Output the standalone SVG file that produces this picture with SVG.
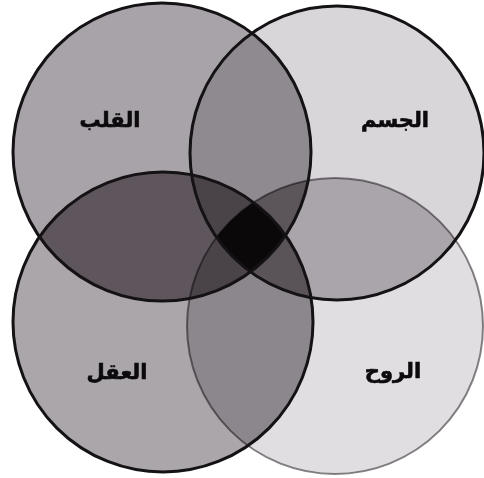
<svg xmlns="http://www.w3.org/2000/svg" width="484" height="478" viewBox="0 0 484 478">
  <style>
    .lbl { font-family: "DejaVu Sans", "Noto Sans", sans-serif; font-weight: bold; font-size: 21px; fill: #0c0a0c; stroke: #0c0a0c; stroke-width: 0.6; text-anchor: middle; }
    .edge { fill: none; stroke: #141214; stroke-width: 3; }
    .edge-light { fill: none; stroke: #8a868a; stroke-width: 2; mix-blend-mode: multiply; }
  </style>
  <defs>
    <circle id="cTL" cx="162" cy="152" r="149"/>
    <circle id="cTR" cx="337" cy="153" r="147"/>
    <circle id="cBL" cx="163" cy="322" r="150"/>
    <circle id="cBR" cx="335" cy="326" r="148"/>
    <clipPath id="kTL"><use href="#cTL"/></clipPath>
    <clipPath id="kTR"><use href="#cTR"/></clipPath>
    <clipPath id="kBL"><use href="#cBL"/></clipPath>
    <clipPath id="kBR"><use href="#cBR"/></clipPath>
  </defs>
  <rect width="484" height="478" fill="#ffffff"/>

  <!-- single regions -->
  <g id="node-jism"><use href="#cTR" fill="#d9d6da"/></g>
  <g id="node-ruh"><use href="#cBR" fill="#e0dee0"/></g>
  <g id="node-qalb"><use href="#cTL" fill="#a8a3a8"/></g>
  <g id="node-aql"><use href="#cBL" fill="#aaa6aa"/></g>

  <!-- overlaps -->
  <g id="overlaps">
    <g clip-path="url(#kTR)"><use href="#cBR" fill="#aaa5aa"/></g>
    <g clip-path="url(#kBL)"><use href="#cBR" fill="#8c878c"/></g>
    <g clip-path="url(#kTL)"><use href="#cTR" fill="#8f8a90"/></g>
    <g clip-path="url(#kTL)"><use href="#cBR" fill="#807a80"/></g>
    <g clip-path="url(#kTR)"><use href="#cBL" fill="#807a80"/></g>
    <g clip-path="url(#kTL)"><use href="#cBL" fill="#5e565c"/></g>
    <!-- triples -->
    <g clip-path="url(#kTL)"><g clip-path="url(#kTR)"><use href="#cBR" fill="#5c565a"/></g></g>
    <g clip-path="url(#kTR)"><g clip-path="url(#kBL)"><use href="#cBR" fill="#5a5458"/></g></g>
    <g clip-path="url(#kTL)"><g clip-path="url(#kTR)"><use href="#cBL" fill="#4a4448"/></g></g>
    <g clip-path="url(#kTL)"><g clip-path="url(#kBL)"><use href="#cBR" fill="#4a4448"/></g></g>
    <!-- all four -->
    <g clip-path="url(#kTL)"><g clip-path="url(#kTR)"><g clip-path="url(#kBL)"><use href="#cBR" fill="#0a0808"/></g></g></g>
  </g>

  <!-- outlines -->
  <g id="outlines">
    <use href="#cBR" class="edge-light"/>
    <use href="#cTR" class="edge"/>
    <use href="#cTL" class="edge"/>
    <use href="#cBL" class="edge"/>
  </g>

  <!-- labels -->
  <text class="lbl" x="110" y="127" direction="rtl">القلب</text>
  <text class="lbl" x="395" y="127" direction="rtl">الجسم</text>
  <text class="lbl" x="117" y="379" direction="rtl">العقل</text>
  <text class="lbl" x="393" y="378" direction="rtl">الروح</text>
</svg>
